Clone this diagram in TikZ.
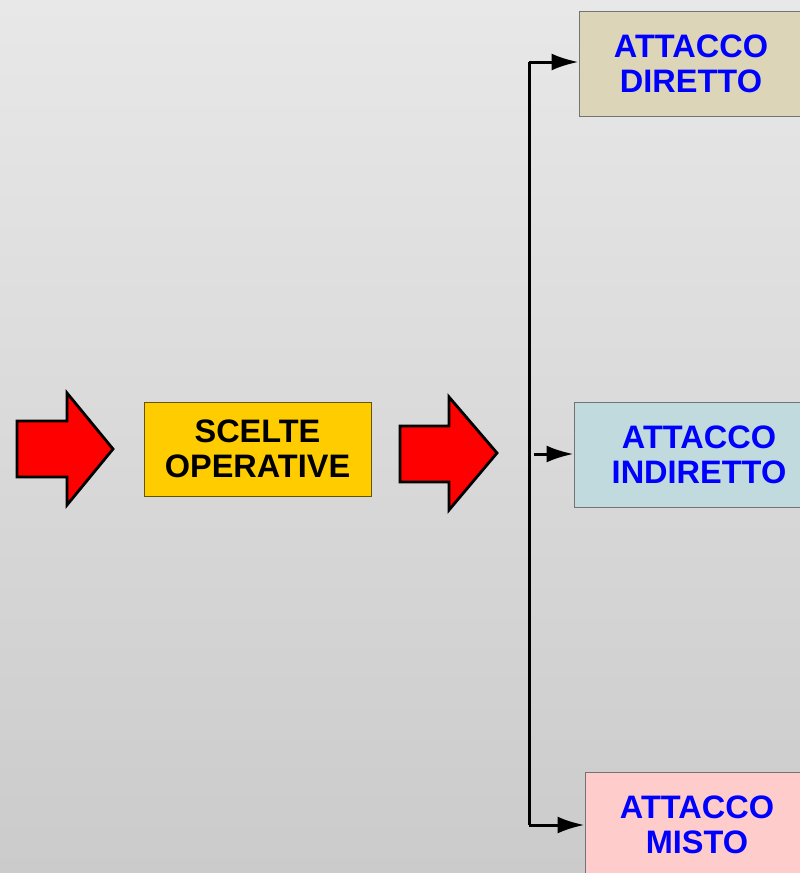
\documentclass[tikz,border=0pt]{standalone}
\usepackage{fontspec}
\setmainfont{Liberation Sans}
\usetikzlibrary{arrows.meta}
\definecolor{bgtop}{HTML}{E8E8E8}
\definecolor{bgbot}{HTML}{CBCBCB}
\definecolor{gold}{HTML}{FFCC00}
\definecolor{goldline}{HTML}{665500}
\definecolor{sand}{HTML}{DDD5B8}
\definecolor{aqua}{HTML}{C0DADE}
\definecolor{rose}{HTML}{FFCCCC}
\definecolor{arrowred}{HTML}{FF0000}
\tikzset{
  x=1pt, y=-1pt,
  bigarrow/.style={fill=arrowred, draw=black, line width=2.8pt, line join=miter},
  boxfont/.style={font=\fontsize{32.5}{37}\selectfont\bfseries},
  optbox/.style={draw=black!55, line width=1pt, align=center, inner sep=0pt,
    boxfont, text=blue},
  link/.style={draw=black, line width=3pt, -{Latex[length=27pt,width=17pt]}},
}
\begin{document}
\begin{tikzpicture}
  % page and background gradient
  \useasboundingbox (0,0) rectangle (800,873);
  \shade[top color=bgtop, bottom color=bgbot] (0,0) rectangle (800,873);
  \clip (0,0) rectangle (800,873);

  % block arrows
  \draw[bigarrow] (17,421) -- (67,421) -- (67,393) -- (113,449) -- (67,505)
    -- (67,477) -- (17,477) -- cycle;
  \draw[bigarrow] (400,426) -- (449,426) -- (449,397) -- (497,453) -- (449,510)
    -- (449,482) -- (400,482) -- cycle;

  % central box
  \node[draw=goldline, line width=1pt, fill=gold, minimum width=227pt, minimum height=94pt,
    inner sep=0pt, align=center, boxfont]
    (scelte) at (257.5,449) {SCELTE\\[-2pt]OPERATIVE};

  % target boxes
  \node[optbox, fill=sand, minimum width=224pt, minimum height=105pt]
    (diretto) at (691,63.5) {ATTACCO\\[-2pt]DIRETTO};
  \node[optbox, fill=aqua, minimum width=250pt, minimum height=105pt]
    (indiretto) at (699,455) {ATTACCO\\[-2pt]INDIRETTO};
  \node[optbox, fill=rose, minimum width=224pt, minimum height=106pt]
    (misto) at (697,825) {ATTACCO\\[-2pt]MISTO};

  % connectors
  \coordinate (top) at (529,62);
  \coordinate (bot) at (529,825);
  \coordinate (mid) at (534,454);
  \draw[black, line width=3pt] (top) -- (bot);
  \draw[link] (top) -- (diretto.west |- top);
  \draw[link] (bot) -- (misto.west |- bot);
  \draw[link] (mid) -- (indiretto.west |- mid);
\end{tikzpicture}
\end{document}
